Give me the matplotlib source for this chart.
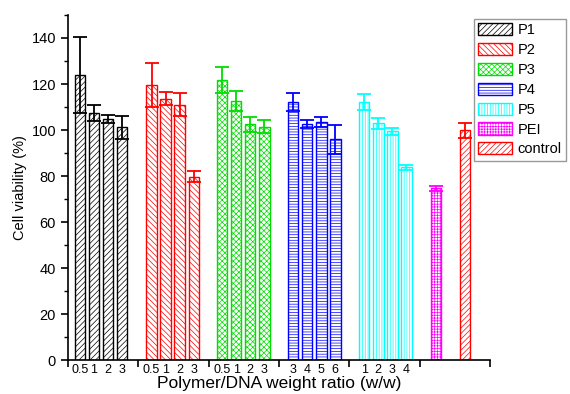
"""Cell viability bar chart for polymer/DNA complexes."""

import matplotlib.pyplot as plt
import numpy as np

plt.rcParams['font.family'] = ['Liberation Sans', 'DejaVu Sans']
plt.rcParams['hatch.linewidth'] = 0.5

groups = ['P1', 'P2', 'P3', 'P4', 'P5', 'PEI', 'control']
colors = ['black', 'red', '#00dd00', 'blue', 'cyan', 'magenta', 'red']
hatches = ['//////', '\\\\\\\\\\\\', 'xxxxxx', '------', '||||||', '++++++', '//////']

ratio_labels = [['0.5', '1', '2', '3'],
                ['0.5', '1', '2', '3'],
                ['0.5', '1', '2', '3'],
                ['3', '4', '5', '6'],
                ['1', '2', '3', '4'],
                [''],
                ['']]
viability = [[124, 107.5, 104.8, 101.2],
             [119.6, 113.6, 111, 79.7],
             [121.7, 112.7, 102.5, 101.5],
             [112.2, 102.5, 103.6, 95.9],
             [112.3, 102.9, 99.4, 83.8],
             [74.6],
             [99.8]]
errors = [[16.5, 3.5, 1.6, 5],
          [9.5, 2.8, 5, 2.5],
          [5.7, 4.4, 3.2, 2.8],
          [3.8, 1.8, 2.2, 6.3],
          [3.5, 2.4, 1.6, 1.0],
          [1.0],
          [3.4]]

# each polymer gets one unit on the x axis, PEI and control share the last one
starts = [0, 1, 2, 3, 4, 5, 5]
offsets = [[0.17, 0.37, 0.57, 0.77],
           [0.19, 0.39, 0.59, 0.79],
           [0.19, 0.39, 0.59, 0.79],
           [0.2, 0.4, 0.6, 0.8],
           [0.21, 0.41, 0.61, 0.81],
           [0.23],
           [0.64]]

fig = plt.figure(figsize=(5.7, 3.94), dpi=100, facecolor='white')
ax = fig.add_axes([0.119, 0.086, 0.741, 0.876])

tick_pos, tick_lab = [], []
for g in range(len(groups)):
    x = starts[g] + np.array(offsets[g])
    ax.bar(x, viability[g], width=0.15, color='white', edgecolor=colors[g],
           hatch=hatches[g], linewidth=1.0, label=groups[g], zorder=2)
    ax.errorbar(x, viability[g], yerr=errors[g], fmt='none', ecolor=colors[g],
                elinewidth=1.3, capsize=5, capthick=1.3, zorder=3)
    tick_pos += list(x)
    tick_lab += ratio_labels[g]

ax.set_xlim(0, 6)
ax.set_ylim(0, 150)
ax.set_xticks(np.arange(0, 7))
ax.set_xticklabels([])
ax.set_xticks(tick_pos, minor=True)
ax.set_xticklabels(tick_lab, minor=True)
ax.tick_params(axis='x', which='major', direction='out', length=5, width=1.2)
ax.tick_params(axis='x', which='minor', length=0, pad=3, labelsize=9)
ax.set_yticks(np.arange(0, 141, 20))
ax.set_yticks(np.arange(10, 151, 20), minor=True)
ax.tick_params(axis='y', which='major', direction='out', length=5, width=1.2, labelsize=10.5)
ax.tick_params(axis='y', which='minor', direction='out', length=3, width=1.0)

for s in ['top', 'right']:
    ax.spines[s].set_visible(False)
for s in ['left', 'bottom']:
    ax.spines[s].set_linewidth(1.2)

ax.set_ylabel('Cell viability (%)', fontsize=10.5, labelpad=3)
ax.set_xlabel('Polymer/DNA weight ratio (w/w)', fontsize=12.5, labelpad=0)

leg = fig.legend(loc='upper left', bbox_to_anchor=(0.831, 0.953), fontsize=10.5,
                 frameon=True, fancybox=False, edgecolor='gray', handlelength=2.3,
                 handleheight=0.9, labelspacing=0.4, borderpad=0.3,
                 handletextpad=0.4, borderaxespad=0)
leg.get_frame().set_linewidth(1.0)

plt.savefig('out.png', dpi=100, facecolor='white')
plt.close()
